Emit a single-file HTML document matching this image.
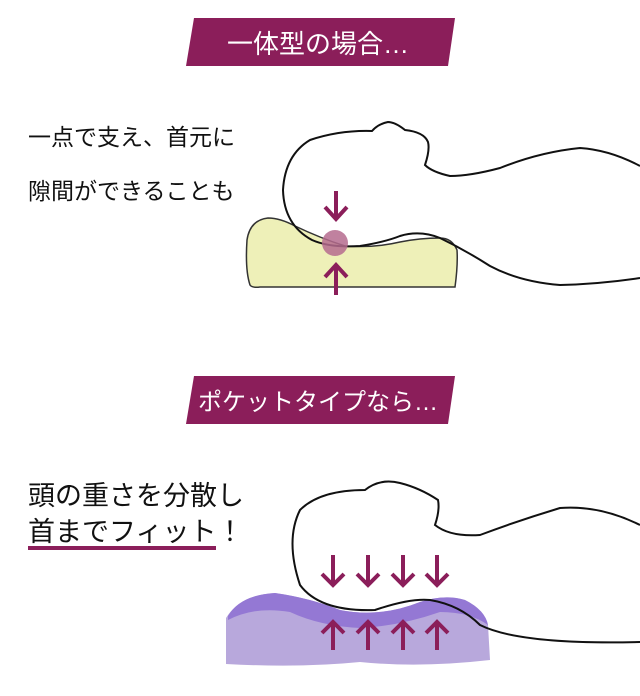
<!DOCTYPE html>
<html><head><meta charset="utf-8"><style>
body{margin:0;background:#fff;width:640px;height:696px;overflow:hidden;position:relative;font-family:"Liberation Sans","Noto Sans CJK JP",sans-serif}
.t{position:absolute;left:28px;color:#111;white-space:nowrap}
</style></head><body>
<svg width="640" height="696" style="position:absolute;left:0;top:0">
<polygon points="194,18 455,18 448,66 186,66" fill="#8b1e5a"/>
<polygon points="194,376 455,376 448,424 186,424" fill="#8b1e5a"/>
<text x="318" y="53" fill="#fff" font-size="26" text-anchor="middle" font-family="Liberation Sans, Noto Sans CJK JP, sans-serif">一体型の場合…</text>
<text x="318" y="410" fill="#fff" font-size="24" text-anchor="middle" font-family="Liberation Sans, Noto Sans CJK JP, sans-serif">ポケットタイプなら…</text>
<!-- pillow 1 -->
<path d="M268,218 Q250,220 247,240 Q245,270 250,285 Q252,288 260,287 L455,287 Q458,265 457,250 Q452,238 440,238 Q420,238 400,242 Q375,248 345,246 Q320,238 295,226 Q280,218 268,218Z" fill="#eef0b8" stroke="#333" stroke-width="1.5"/>
<!-- head 1 -->
<path d="M640,166 Q610,150 580,148 Q540,152 500,168 Q470,176 450,176 Q432,172 425,165 Q430,150 428,142 Q424,132 405,130 Q395,122 388,122 Q378,124 372,131 Q340,130 310,140 Q285,155 283,190 Q284,225 312,240 Q330,248 360,246 Q385,242 400,236 Q420,230 440,238 Q465,250 490,266 Q520,282 560,285 Q600,284 640,278" fill="none" stroke="#111" stroke-width="2"/>
<circle cx="335" cy="243" r="13" fill="#b56b8e" opacity="0.85"/>
<g stroke="#8b1e5a" stroke-width="4" fill="none">
<path d="M336,191 V219 M325,207 L336,219 L347,207"/>
<path d="M336,295 V265 M325,277 L336,265 L347,277"/>
</g>
<!-- pillow 2 -->
<path d="M226,618 Q240,595 275,593 Q310,598 340,610 Q380,618 420,602 Q445,594 465,600 Q485,610 488,625 L490,660 Q420,668 360,662 Q300,668 226,664Z" fill="#b8a8dc"/>
<path d="M228,616 Q240,595 275,593 Q310,598 340,610 Q380,618 420,602 Q445,594 465,600 Q485,610 488,625 Q470,612 440,612 Q400,626 360,628 Q320,626 290,612 Q255,606 228,620Z" fill="#9478d4"/>
<!-- head 2 -->
<path d="M640,525 Q600,505 560,508 Q520,520 480,535 Q450,537 435,525 Q440,510 438,500 Q420,488 400,483 Q380,478 365,490 Q320,490 300,510 Q285,540 300,585 Q320,612 375,610 Q410,598 430,600 Q460,605 480,625 Q520,645 640,642" fill="none" stroke="#111" stroke-width="2"/>
<g stroke="#8b1e5a" stroke-width="4" fill="none">
<path d="M333,555 V585 M322,574 L333,585 L344,574"/>
<path d="M368,555 V585 M357,574 L368,585 L379,574"/>
<path d="M403,555 V585 M392,574 L403,585 L414,574"/>
<path d="M437,555 V585 M426,574 L437,585 L448,574"/>
<path d="M333,650 V622 M322,633 L333,622 L344,633"/>
<path d="M368,650 V622 M357,633 L368,622 L379,633"/>
<path d="M403,650 V622 M392,633 L403,622 L414,633"/>
<path d="M437,650 V622 M426,633 L437,622 L448,633"/>
</g>
<rect x="28" y="546" width="188" height="4" fill="#8b1e5a"/>
</svg>
<div class="t" style="top:118px;font-size:23px">一点で支え、首元に</div>
<div class="t" style="top:172px;font-size:23px">隙間ができることも</div>
<div class="t" style="top:474px;font-size:27px">頭の重さを分散し</div>
<div class="t" style="top:510px;font-size:27px">首までフィット！</div>
</body></html>
